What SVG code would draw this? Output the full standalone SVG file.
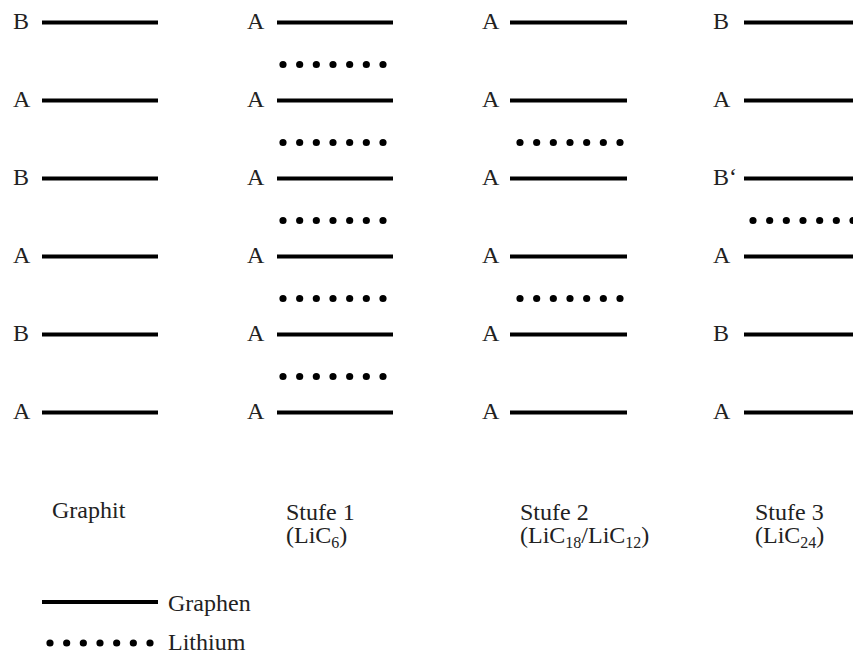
<svg xmlns="http://www.w3.org/2000/svg" width="853" height="655" viewBox="0 0 853 655">
<style>
text{font-family:"Liberation Serif","Times New Roman",serif;font-size:24px;fill:#222}
.g{stroke:#000;stroke-width:4;fill:none}
.li{stroke:#000;stroke-width:7.2;stroke-linecap:round;stroke-dasharray:0 16.667;fill:none}
.sub{font-size:16px}
</style>
<rect width="853" height="655" fill="#fff"/>
<g id="graphit">
<text x="13" y="29">B</text><line class="g" x1="42" y1="22.5" x2="158" y2="22.5"/>
<text x="13" y="107">A</text><line class="g" x1="42" y1="100.5" x2="158" y2="100.5"/>
<text x="13" y="185">B</text><line class="g" x1="42" y1="178.5" x2="158" y2="178.5"/>
<text x="13" y="263">A</text><line class="g" x1="42" y1="256.5" x2="158" y2="256.5"/>
<text x="13" y="341">B</text><line class="g" x1="42" y1="334.5" x2="158" y2="334.5"/>
<text x="13" y="419">A</text><line class="g" x1="42" y1="412.5" x2="158" y2="412.5"/>
<text x="52" y="518">Graphit</text>
</g>
<g id="stufe1">
<text x="247" y="29">A</text><line class="g" x1="277" y1="22.5" x2="393" y2="22.5"/>
<line class="li" x1="283" y1="64.5" x2="383.2" y2="64.5"/>
<text x="247" y="107">A</text><line class="g" x1="277" y1="100.5" x2="393" y2="100.5"/>
<line class="li" x1="283" y1="142.5" x2="383.2" y2="142.5"/>
<text x="247" y="185">A</text><line class="g" x1="277" y1="178.5" x2="393" y2="178.5"/>
<line class="li" x1="283" y1="220.5" x2="383.2" y2="220.5"/>
<text x="247" y="263">A</text><line class="g" x1="277" y1="256.5" x2="393" y2="256.5"/>
<line class="li" x1="283" y1="298.5" x2="383.2" y2="298.5"/>
<text x="247" y="341">A</text><line class="g" x1="277" y1="334.5" x2="393" y2="334.5"/>
<line class="li" x1="283" y1="376.5" x2="383.2" y2="376.5"/>
<text x="247" y="419">A</text><line class="g" x1="277" y1="412.5" x2="393" y2="412.5"/>
<text x="286" y="520">Stufe 1</text>
<text x="286" y="543">(LiC<tspan class="sub" dy="5">6</tspan><tspan dy="-5">)</tspan></text>
</g>
<g id="stufe2">
<text x="482" y="29">A</text><line class="g" x1="510" y1="22.5" x2="627" y2="22.5"/>
<text x="482" y="107">A</text><line class="g" x1="510" y1="100.5" x2="627" y2="100.5"/>
<line class="li" x1="520" y1="142.5" x2="620.2" y2="142.5"/>
<text x="482" y="185">A</text><line class="g" x1="510" y1="178.5" x2="627" y2="178.5"/>
<text x="482" y="263">A</text><line class="g" x1="510" y1="256.5" x2="627" y2="256.5"/>
<line class="li" x1="520" y1="298.5" x2="620.2" y2="298.5"/>
<text x="482" y="341">A</text><line class="g" x1="510" y1="334.5" x2="627" y2="334.5"/>
<text x="482" y="419">A</text><line class="g" x1="510" y1="412.5" x2="627" y2="412.5"/>
<text x="520" y="520">Stufe 2</text>
<text x="520" y="543">(LiC<tspan class="sub" dy="5">18</tspan><tspan dy="-5">/LiC</tspan><tspan class="sub" dy="5">12</tspan><tspan dy="-5">)</tspan></text>
</g>
<g id="stufe3">
<text x="713" y="29">B</text><line class="g" x1="744" y1="22.5" x2="853" y2="22.5"/>
<text x="713" y="107">A</text><line class="g" x1="744" y1="100.5" x2="853" y2="100.5"/>
<text x="713" y="185">B‘</text><line class="g" x1="744" y1="178.5" x2="853" y2="178.5"/>
<line class="li" x1="753" y1="220.5" x2="853.2" y2="220.5"/>
<text x="713" y="263">A</text><line class="g" x1="744" y1="256.5" x2="853" y2="256.5"/>
<text x="713" y="341">B</text><line class="g" x1="744" y1="334.5" x2="853" y2="334.5"/>
<text x="713" y="419">A</text><line class="g" x1="744" y1="412.5" x2="853" y2="412.5"/>
<text x="755" y="520">Stufe 3</text>
<text x="755" y="543">(LiC<tspan class="sub" dy="5">24</tspan><tspan dy="-5">)</tspan></text>
</g>
<g id="legend">
<line class="g" x1="42" y1="602" x2="158" y2="602"/>
<text x="168" y="611">Graphen</text>
<line class="li" x1="50" y1="643" x2="150.2" y2="643"/>
<text x="168" y="650">Lithium</text>
</g>
</svg>
